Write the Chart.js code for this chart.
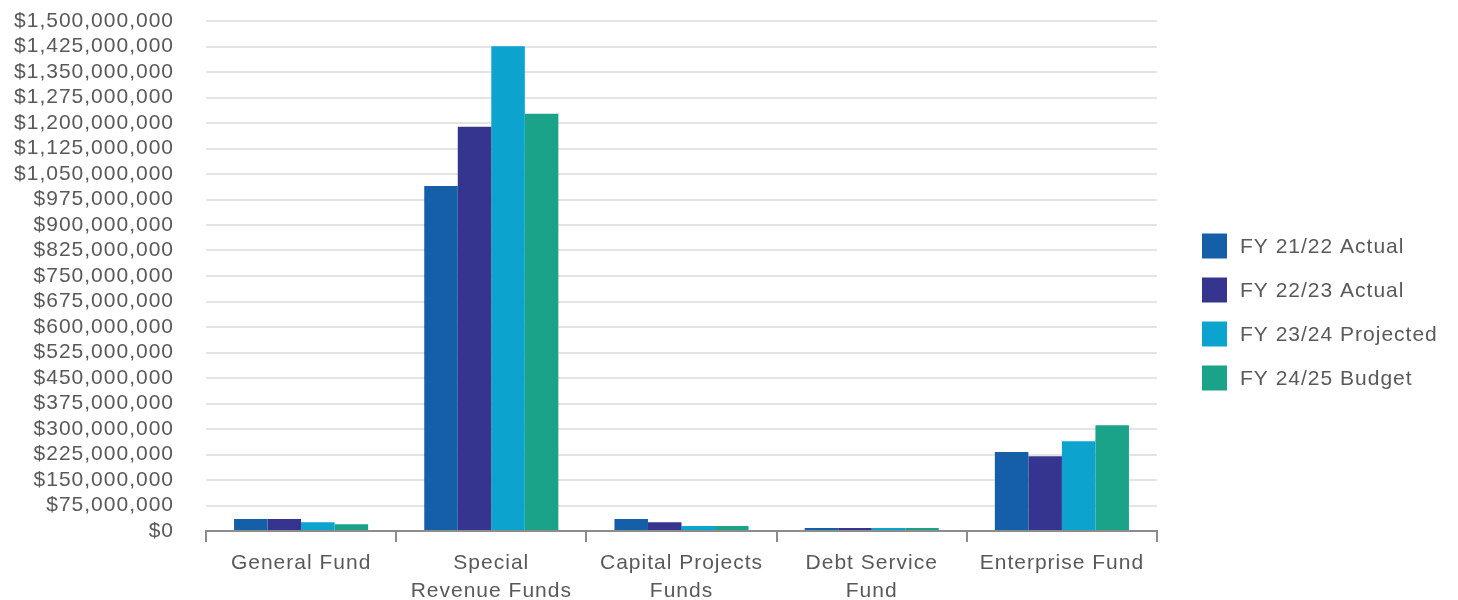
<!DOCTYPE html>
<html><head><meta charset="utf-8">
<script src="https://cdn.jsdelivr.net/npm/chart.js@4/dist/chart.umd.min.js"></script>
<style>html,body{margin:0;padding:0;background:#fff}#wrap{width:1458px;height:600px}</style>
</head><body><div id="wrap"><canvas id="c" width="1458" height="600"></canvas></div>
<script>
const categories = [["General Fund"], ["Special", "Revenue Funds"], ["Capital Projects", "Funds"], ["Debt Service", "Fund"], ["Enterprise Fund"]];
const seriesNames = ["FY 21/22 Actual", "FY 22/23 Actual", "FY 23/24 Projected", "FY 24/25 Budget"];
const fy2122 = [35000000, 1015000000, 35000000, 9000000, 232000000];
const fy2223 = [35000000, 1189000000, 26000000, 9000000, 220000000];
const fy2324 = [26000000, 1426000000, 15000000, 9000000, 264000000];
const fy2425 = [20000000, 1227000000, 15000000, 9000000, 311000000];
const yMin = 0, yMax = 1500000000, yStep = 75000000;
const colors = ["#155EA8", "#35348E", "#0CA4CF", "#1BA38A"];
const FONT = '"Liberation Sans", Arial, sans-serif';
const SP = '1px';

const spacingPlugin = {
  id: 'letterSpacing',
  beforeInit(chart) { chart.ctx.letterSpacing = SP; },
  beforeUpdate(chart) { chart.ctx.letterSpacing = SP; },
  beforeDraw(chart) { chart.ctx.letterSpacing = SP; }
};

const legendPlugin = {
  id: 'customLegend',
  afterDraw(chart) {
    const ctx = chart.ctx;
    ctx.save();
    ctx.letterSpacing = SP;
    ctx.font = '21px ' + FONT;
    ctx.textBaseline = 'middle';
    ctx.textAlign = 'left';
    chart.data.datasets.forEach((ds, i) => {
      const cy = 246 + i * 44;
      ctx.fillStyle = ds.backgroundColor;
      ctx.fillRect(1202, cy - 12.5, 25, 25);
      ctx.fillStyle = '#595959';
      ctx.fillText(ds.label, 1240, cy + 1);
    });
    ctx.restore();
  }
};

const series = [fy2122, fy2223, fy2324, fy2425];
new Chart(document.getElementById('c'), {
  type: 'bar',
  data: {
    labels: categories,
    datasets: series.map((d, i) => ({
      label: seriesNames[i], data: d, backgroundColor: colors[i],
      categoryPercentage: 0.705, barPercentage: 1.0, borderWidth: 0
    }))
  },
  options: {
    responsive: false, animation: false,
    layout: { padding: { top: 21, right: 301, left: 0, bottom: 0 } },
    plugins: { legend: { display: false }, tooltip: { enabled: false } },
    scales: {
      x: {
        grid: { display: true, drawOnChartArea: false, drawTicks: true, tickLength: 11, color: '#8c8c8c', lineWidth: 2, offset: true },
        border: { display: true, color: '#8c8c8c', width: 2 },
        ticks: { color: '#595959', font: { family: FONT, size: 21, lineHeight: 1.35 }, padding: 7, maxRotation: 0, autoSkip: false },
        afterFit(scale) { scale.height = 69; }
      },
      y: {
        min: yMin, max: yMax,
        grid: { color: '#e4e4e4', lineWidth: 2, drawTicks: true, tickLength: 32, tickColor: 'rgba(0,0,0,0)' },
        border: { display: false },
        ticks: {
          stepSize: yStep, color: '#595959', padding: 0, autoSkip: false,
          font: { family: FONT, size: 21, lineHeight: 1.1 },
          callback: v => '$' + Number(v).toLocaleString('en-US')
        },
        afterFit(scale) { scale.width = 206; }
      }
    }
  },
  plugins: [spacingPlugin, legendPlugin]
});
</script></body></html>
